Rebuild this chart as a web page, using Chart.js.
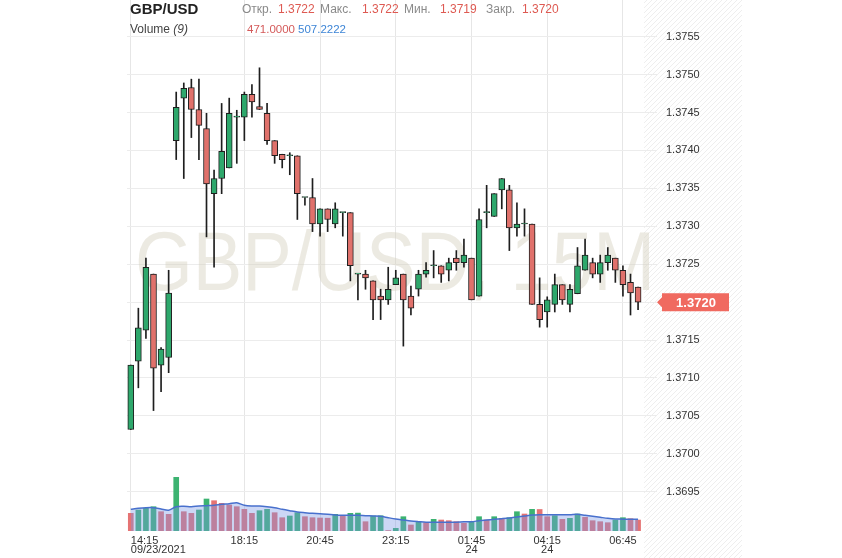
<!DOCTYPE html>
<html><head><meta charset="utf-8">
<script src="https://cdn.jsdelivr.net/npm/chart.js@4.4.1/dist/chart.umd.min.js"></script>
<style>
html,body{margin:0;padding:0;background:#fff;}
#wrap{position:relative;width:842px;height:558px;overflow:hidden;font-family:"Liberation Sans",Arial,sans-serif;}
#c{position:absolute;left:0;top:0;}
.h{position:absolute;white-space:nowrap;line-height:1;font-size:12px;}
.lbl{color:#8a8a8a;}
.val{color:#de5a52;}
</style></head><body>
<div id="wrap">
<canvas id="c" width="842" height="558"></canvas>
<div class="h" style="left:130px;top:1px;font-size:15px;font-weight:bold;color:#222">GBP/USD</div>
<div class="h lbl" style="left:242px;top:3px">Откр.</div>
<div class="h val" style="left:278px;top:3px">1.3722</div>
<div class="h lbl" style="left:320px;top:3px">Макс.</div>
<div class="h val" style="left:362px;top:3px">1.3722</div>
<div class="h lbl" style="left:404px;top:3px">Мин.</div>
<div class="h val" style="left:440px;top:3px">1.3719</div>
<div class="h lbl" style="left:486px;top:3px">Закр.</div>
<div class="h val" style="left:522px;top:3px">1.3720</div>
<div class="h" style="left:130px;top:23px;color:#444">Volume <i>(9)</i></div>
<div class="h" style="left:247px;top:24px;font-size:11.5px;color:#d45a5a">471.0000</div>
<div class="h" style="left:298px;top:24px;font-size:11.5px;color:#3d85d6">507.2222</div>
</div>
<script>
// ---- data ----
const times = ["14:30","14:45","15:00","15:15","15:30","15:45","16:00","16:15","16:30","16:45",
"17:00","17:15","17:30","17:45","18:00","18:15","18:30","18:45","19:00","19:15",
"19:30","19:45","20:00","20:15","20:30","20:45","21:00","21:15","21:30","21:45",
"22:00","22:15","22:30","22:45","23:00","23:15","23:30","23:45","00:00","00:15",
"00:30","00:45","01:00","01:15","01:30","01:45","02:00","02:15","02:30","02:45",
"03:00","03:15","03:30","03:45","04:00","04:15","04:30","04:45","05:00","05:15",
"05:30","05:45","06:00","06:15","06:30","06:45","07:00","07:15"];
const openP = [1.37032,1.37122,1.37163,1.37237,1.37117,1.37127,1.37413,1.37469,1.37483,1.37454,
1.37429,1.37343,1.37363,1.37377,1.37444,1.37444,1.37474,1.37458,1.37449,1.37413,
1.37395,1.37393,1.37393,1.37338,1.37338,1.37303,1.37323,1.37303,1.37318,1.37318,
1.37237,1.37237,1.37228,1.37208,1.37203,1.37223,1.37237,1.37208,1.37217,1.37237,
1.37248,1.37248,1.37242,1.37258,1.37252,1.37258,1.37208,1.37318,1.37313,1.37348,
1.37348,1.37298,1.37303,1.37303,1.37197,1.37187,1.37197,1.37223,1.37197,1.37211,
1.37242,1.37252,1.37237,1.37252,1.37258,1.37242,1.37226,1.3722];
const highP = [1.37117,1.37192,1.37258,1.37237,1.37140,1.37242,1.37477,1.37489,1.37494,1.37494,
1.37449,1.37374,1.37462,1.37469,1.37453,1.37477,1.37487,1.37509,1.37462,1.37413,
1.37395,1.37397,1.37393,1.37338,1.37363,1.37323,1.37323,1.37331,1.37318,1.37318,
1.37237,1.37242,1.37228,1.37217,1.37246,1.37242,1.37237,1.37221,1.37242,1.37252,
1.37268,1.37248,1.37258,1.37268,1.37283,1.37258,1.37323,1.37354,1.37343,1.37363,
1.37354,1.37331,1.37323,1.37303,1.37232,1.37207,1.37237,1.37223,1.37223,1.37272,
1.37283,1.37258,1.37262,1.37272,1.37258,1.37248,1.37237,1.3722];
const lowP = [1.37032,1.37087,1.37152,1.37057,1.37082,1.37107,1.37388,1.37363,1.37417,1.37388,
1.37286,1.37246,1.37343,1.37377,1.37383,1.37413,1.37444,1.37454,1.37408,1.37383,
1.37377,1.37368,1.37309,1.37328,1.37293,1.37287,1.37293,1.37298,1.37287,1.37228,
1.37203,1.37217,1.37177,1.37177,1.37197,1.37223,1.37142,1.37183,1.37208,1.37233,
1.37232,1.37226,1.37228,1.37242,1.37246,1.37203,1.37208,1.37298,1.37313,1.37323,
1.37268,1.37287,1.37287,1.37197,1.37167,1.37167,1.37187,1.37197,1.37187,1.37211,
1.37242,1.37232,1.37226,1.37242,1.37226,1.37208,1.37183,1.3719];
const closeP = [1.37117,1.37166,1.37246,1.37113,1.37138,1.37212,1.37457,1.37482,1.37454,1.37433,
1.37356,1.37363,1.37399,1.37449,1.37444,1.37474,1.37464,1.37454,1.37413,1.37393,
1.37388,1.37393,1.37343,1.37338,1.37303,1.37323,1.37309,1.37323,1.37318,1.37248,
1.37237,1.37232,1.37203,1.37203,1.37217,1.37232,1.37203,1.37192,1.37237,1.37242,
1.37248,1.37237,1.37252,1.37252,1.37262,1.37203,1.37309,1.37318,1.37343,1.37363,
1.37298,1.37303,1.37303,1.37197,1.37177,1.37203,1.37223,1.37203,1.37217,1.37248,
1.37262,1.37237,1.37252,1.37262,1.37242,1.37223,1.37212,1.3720];
const volume = [761,903,976,1045,830,718,2309,830,761,903,
1376,1303,1191,1118,1045,933,761,873,933,787,
572,645,787,615,572,559,550,718,645,761,
770,400,645,654,20,116,615,258,400,357,
503,473,443,400,331,400,615,473,615,546,
572,830,731,933,925,615,658,503,546,730,
590,443,400,357,473,572,529,471];
const volumeMA = [933,976,1002,1002,946,890,1045,1062,1045,1075,
1088,1105,1148,1174,1217,1105,1075,1075,1045,1002,
933,873,817,787,761,744,718,688,675,675,
675,658,645,632,572,516,473,430,400,374,
374,374,374,380,395,400,443,473,503,529,
559,602,645,688,701,701,701,701,701,718,
675,632,589,546,516,510,500,507.2222];
const priceTicks = [1.3695,1.3700,1.3705,1.3710,1.3715,1.3720,1.3725,1.3730,1.3735,1.3740,1.3745,1.3750,1.3755];
const timeTickIndex = [0,15,25,35,45,55,65];
const timeTickLabels = [["14:15","09/23/2021"],["18:15"],["20:45"],["23:15"],["01:45","24"],["04:15","24"],["06:45"]];
const lastPrice = 1.3720;

// ---- derived ----
const GREEN = '#2ea86c', RED = '#e0716b', EDGE = '#1e1e1e';
const bodyColors = closeP.map((c,i)=> c >= openP[i] ? GREEN : RED);
const volColors = volume.map((v,i)=> (i>0 && v >= volume[i-1]) ? '#3cb371' : '#e57373');
const tickLabelMap = {};
timeTickIndex.forEach((ix,k)=>{ tickLabelMap[ix] = timeTickLabels[k]; });

const FONT = '"Liberation Sans", Arial, sans-serif';

const bgPlugin = {
  id:'bg',
  beforeDraw(chart){
    const ctx = chart.ctx;
    ctx.save();
    ctx.fillStyle='#fff'; ctx.fillRect(0,0,chart.width,chart.height);
    ctx.beginPath(); ctx.rect(644,0,98,558); ctx.clip();
    ctx.strokeStyle='#eeeeee'; ctx.lineWidth=1;
    ctx.beginPath();
    for(let k=-600;k<200;k+=5){ ctx.moveTo(644+k,558); ctx.lineTo(644+k+558,0); }
    ctx.stroke();
    ctx.restore();
  },
  beforeDatasetsDraw(chart){
    const ctx = chart.ctx;
    ctx.save();
    ctx.font = '84px ' + FONT;
    const txt = 'GBP/USD, 15M';
    const w = ctx.measureText(txt).width;
    ctx.translate(395, 290);
    ctx.scale(520/w, 1);
    ctx.textAlign='center'; ctx.textBaseline='alphabetic';
    ctx.fillStyle='rgba(212,209,190,0.45)';
    ctx.fillText(txt,0,0);
    ctx.restore();
  },
  afterDraw(chart){
    const ctx = chart.ctx;
    const y = chart.scales.y.getPixelForValue(lastPrice);
    ctx.save();
    ctx.fillStyle='#f06a60';
    ctx.beginPath();
    ctx.moveTo(657,y); ctx.lineTo(662,y-5); ctx.lineTo(662,y-9); ctx.lineTo(729,y-9);
    ctx.lineTo(729,y+9); ctx.lineTo(662,y+9); ctx.lineTo(662,y+5); ctx.closePath(); ctx.fill();
    ctx.fillStyle='#fff'; ctx.font='bold 13px '+FONT; ctx.textAlign='center'; ctx.textBaseline='middle';
    ctx.fillText(lastPrice.toFixed(4), 696, y+1);
    ctx.restore();
  }
};

new Chart(document.getElementById('c'), {
  type:'bar',
  data:{
    datasets:[
      { type:'line', label:'Volume MA', xAxisID:'x', yAxisID:'v', order:0,
        data: volumeMA.map((v,i)=>({x:i,y:v})),
        borderColor:'rgb(72,112,205)', borderWidth:1.5, backgroundColor:'rgba(120,150,230,0.38)',
        fill:'origin', pointRadius:0, tension:0.3 },
      { label:'Volume', xAxisID:'x', yAxisID:'v', order:1, grouped:false,
        data: volume.map((v,i)=>({x:i,y:v})), backgroundColor: volColors, barThickness:5 },
      { label:'Body', xAxisID:'x', yAxisID:'y', order:2, grouped:false,
        data: openP.map((o,i)=>({x:i,y:[o, closeP[i]]})),
        backgroundColor: bodyColors, borderColor: EDGE, borderWidth:1, borderSkipped:false,
        barThickness:6, minBarLength:1 },
      { label:'Wick', xAxisID:'x', yAxisID:'y', order:3, grouped:false,
        data: lowP.map((l,i)=>({x:i,y:[l, highP[i]]})),
        backgroundColor: EDGE, barThickness:1 }
    ]
  },
  options:{
    responsive:false, animation:false, devicePixelRatio:1,
    layout:{ padding:{ left:127, right:100, top:0, bottom:0 } },
    plugins:{ legend:{display:false}, tooltip:{enabled:false} },
    scales:{
      x:{ type:'linear', min:-0.5, max:69.5, offset:false,
        afterBuildTicks(s){ s.ticks = timeTickIndex.concat([69]).map(v=>({value:v})); },
        afterFit(s){ s.height = 27; s.paddingLeft = 0; s.paddingRight = 0; },
        ticks:{ autoSkip:false, maxRotation:0, align:'inner', padding:5, color:'#333',
          font:{ family:FONT, size:11, lineHeight:0.85 },
          callback(v){ return tickLabelMap[v] || ''; } },
        grid:{ offset:false, drawTicks:false, color(ctx){ return (ctx.tick && tickLabelMap[ctx.tick.value]) ? '#e6e6e6' : 'rgba(0,0,0,0)'; } },
        border:{ display:false } },
      y:{ type:'linear', position:'right', min:1.368982, max:1.375984,
        afterBuildTicks(s){ s.ticks = priceTicks.map(v=>({value:v})); },
        afterFit(s){ s.width = 85; s.paddingTop = 0; s.paddingBottom = 0; },
        ticks:{ padding:9, color:'#333', font:{ family:FONT, size:11 }, callback(v){ return Number(v).toFixed(4); } },
        grid:{ drawTicks:false, color:'#ececec' },
        border:{ display:false } },
      v:{ type:'linear', display:false, min:0, max:22833 }
    }
  },
  plugins:[bgPlugin]
});
</script>
</body></html>
